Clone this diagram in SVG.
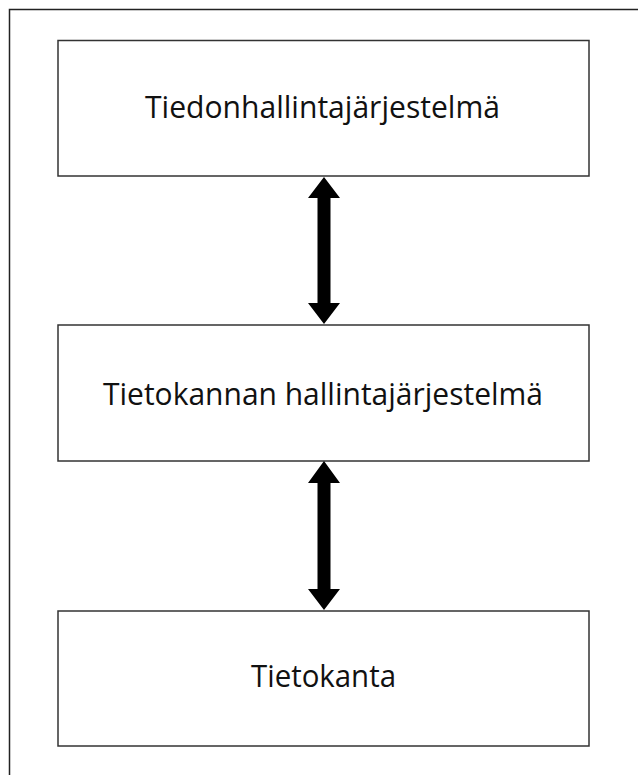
<svg xmlns="http://www.w3.org/2000/svg" width="638" height="775" viewBox="0 0 638 775">
<style>
.box{fill:#fff;stroke:#333;stroke-width:1.5}
.lbl{font-family:"Open Sans","Noto Sans","DejaVu Sans",sans-serif;font-size:31px;fill:#111;text-anchor:middle}
.arr{fill:#000}
</style>
<rect width="638" height="775" fill="#fff"/>
<path d="M9.5,775 V9.5 H638" fill="none" stroke="#222" stroke-width="1.5"/>
<g id="node-tiedonhallinta">
<rect class="box" x="58" y="40.5" width="531" height="135.5"/>
<text class="lbl" x="322.5" y="118" textLength="355" lengthAdjust="spacingAndGlyphs">Tiedonhallintajärjestelmä</text>
</g>
<g id="node-tkhj">
<rect class="box" x="58" y="325" width="531" height="136"/>
<text class="lbl" x="323" y="405" textLength="440" lengthAdjust="spacingAndGlyphs">Tietokannan hallintajärjestelmä</text>
</g>
<g id="node-tietokanta">
<rect class="box" x="58" y="611" width="531" height="135"/>
<text class="lbl" x="323.5" y="687" textLength="145" lengthAdjust="spacingAndGlyphs">Tietokanta</text>
</g>
<g id="connectors">
<polygon class="arr" points="324,177 340,198 330.5,198 330.5,303 340,303 324,324 308,303 317.5,303 317.5,198 308,198"/>
<polygon class="arr" points="324,461 340,483 330.5,483 330.5,589 340,589 324,610 308,589 317.5,589 317.5,483 308,483"/>
</g>
</svg>
